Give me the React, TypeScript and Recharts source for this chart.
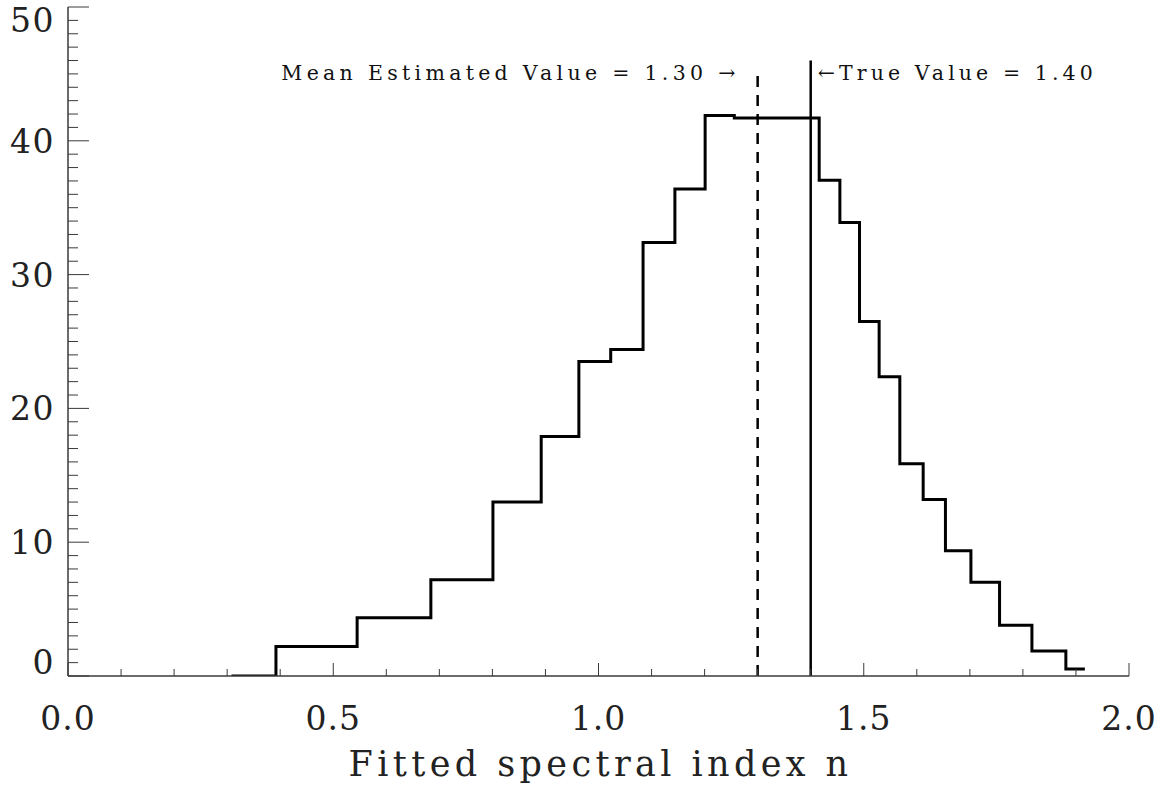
import React from 'react';
import { ComposedChart, Line, XAxis, YAxis, ReferenceLine } from 'recharts';

// Histogram bin edges (fitted spectral index n) and bin heights
const binEdges = [
  0.311, 0.392, 0.545, 0.684, 0.801, 0.892, 0.963, 1.023, 1.084, 1.144, 1.201, 1.256,
  1.416, 1.455, 1.492, 1.529, 1.568, 1.612, 1.654, 1.702, 1.756, 1.817, 1.881, 1.914,
];
const binCounts = [
  0, 2.2, 4.36, 7.2, 13.0, 17.9, 23.5, 24.4, 32.4, 36.4, 41.9, 41.7,
  37.05, 33.9, 26.5, 22.36, 15.87, 13.2, 9.36, 7.0, 3.8, 1.87, 0.52,
];

const meanValue = 1.3;
const trueValue = 1.4;
const meanLineTop = 45.2;
const trueLineTop = 46.0;

const xMajorTicks = [0, 0.5, 1.0, 1.5, 2.0];
const yMajorTicks = [0, 10, 20, 30, 40, 50];
const xAllTicks = Array.from({ length: 21 }, (_, i) => Math.round(i) / 10);
const yAllTicks = Array.from({ length: 51 }, (_, i) => i);

const data = binEdges.map((e, i) => ({
  n: e,
  count: i < binCounts.length ? binCounts[i] : binCounts[binCounts.length - 1],
}));

const FONT = '"DejaVu Serif", "Liberation Serif", serif';
const AXIS_COLOR = '#3a3a3a';

const isMajor = (v: number, majors: number[]) => majors.some((m) => Math.abs(m - v) < 1e-6);

const BottomTick = (props: any) => {
  const { x, y, payload } = props;
  const major = isMajor(payload.value, xMajorTicks);
  return (
    <g>
      <line x1={x} y1={y} x2={x} y2={y - (major ? 13 : 7)} stroke={AXIS_COLOR} strokeWidth={1} />
      {major && (
        <text x={x} y={y + 54} textAnchor="middle" fontFamily={FONT} fontSize={33} fill="#222" letterSpacing={1}>
          {payload.value.toFixed(1)}
        </text>
      )}
    </g>
  );
};

const TopTick = (props: any) => {
  const { x, y, payload } = props;
  const major = isMajor(payload.value, xMajorTicks);
  return <line x1={x} y1={y} x2={x} y2={y + (major ? 13 : 7)} stroke={AXIS_COLOR} strokeWidth={1} />;
};

const LeftTick = (props: any) => {
  const { x, y, payload } = props;
  const major = isMajor(payload.value, yMajorTicks);
  const v = payload.value;
  const dy = v === 50 ? 13 : v === 0 ? -14 : 0;
  return (
    <g>
      <line x1={x} y1={y} x2={x + (major ? 21 : 10)} y2={y} stroke={AXIS_COLOR} strokeWidth={1} />
      {major && (
        <text x={x - 13} y={y + dy + 12} textAnchor="end" fontFamily={FONT} fontSize={33} fill="#222" letterSpacing={1.5}>
          {String(v)}
        </text>
      )}
    </g>
  );
};

const RightTick = (props: any) => {
  const { x, y, payload } = props;
  const major = isMajor(payload.value, yMajorTicks);
  return <line x1={x} y1={y} x2={x - (major ? 21 : 10)} y2={y} stroke={AXIS_COLOR} strokeWidth={1} />;
};

const MeanLabel = (props: any) => {
  const vb = props.viewBox || {};
  return (
    <text x={vb.x - 18} y={80} textAnchor="end" fontFamily={FONT} fontSize={20.5} fill="#111" letterSpacing={4.3}>
      Mean Estimated Value = 1.30 →
    </text>
  );
};

const TrueLabel = (props: any) => {
  const vb = props.viewBox || {};
  return (
    <text x={vb.x + 7} y={80} textAnchor="start" fontFamily={FONT} fontSize={20.5} fill="#111" letterSpacing={4.1}>
      ←True Value = 1.40
    </text>
  );
};

const XTitle = (props: any) => {
  const vb = props.viewBox || {};
  return (
    <text x={vb.x + vb.width / 2 + 2} y={vb.y + 100} textAnchor="middle" fontFamily={FONT} fontSize={35} fill="#222" letterSpacing={4.4}>
      Fitted spectral index n
    </text>
  );
};

export default function App() {
  return (
    <div style={{ position: 'absolute', left: 0, top: 0, width: 1174, height: 791, background: '#fff' }}>
      <ComposedChart width={1174} height={791} data={data} margin={{ top: 7, right: 45, bottom: 0, left: 0 }}>
        <XAxis
          xAxisId="bottom"
          dataKey="n"
          type="number"
          domain={[0, 2]}
          ticks={xAllTicks}
          interval={0}
          orientation="bottom"
          height={115}
          tickSize={0}
          tickMargin={0}
          tickLine={false}
          axisLine={{ stroke: AXIS_COLOR, strokeWidth: 1.5 }}
          tick={<BottomTick />}
          allowDataOverflow
          label={{ content: <XTitle /> }}
        />
        <XAxis
          xAxisId="top"
          dataKey="n"
          type="number"
          domain={[0, 2]}
          ticks={xAllTicks}
          interval={0}
          orientation="top"
          height={0}
          tickSize={0}
          tickMargin={0}
          tickLine={false}
          axisLine={{ stroke: AXIS_COLOR, strokeWidth: 1.5 }}
          tick={<TopTick />}
          allowDataOverflow
        />
        <YAxis
          yAxisId="left"
          type="number"
          domain={[0, 50]}
          ticks={yAllTicks}
          interval={0}
          orientation="left"
          width={68}
          tickSize={0}
          tickMargin={0}
          tickLine={false}
          axisLine={{ stroke: AXIS_COLOR, strokeWidth: 1.5 }}
          tick={<LeftTick />}
          allowDataOverflow
        />
        <YAxis
          yAxisId="right"
          type="number"
          domain={[0, 50]}
          ticks={yAllTicks}
          interval={0}
          orientation="right"
          width={0}
          tickSize={0}
          tickMargin={0}
          tickLine={false}
          axisLine={{ stroke: AXIS_COLOR, strokeWidth: 1.5 }}
          tick={<RightTick />}
          allowDataOverflow
        />
        <Line
          xAxisId="bottom"
          yAxisId="left"
          type="stepAfter"
          dataKey="count"
          stroke="#000"
          strokeWidth={3}
          dot={false}
          activeDot={false}
          isAnimationActive={false}
          strokeLinejoin="miter"
          strokeLinecap="square"
        />
        <ReferenceLine
          xAxisId="bottom"
          yAxisId="left"
          segment={[{ x: meanValue, y: 0 }, { x: meanValue, y: meanLineTop }]}
          stroke="#000"
          strokeWidth={2.5}
          strokeDasharray="11 8"
          label={<MeanLabel />}
        />
        <ReferenceLine
          xAxisId="bottom"
          yAxisId="left"
          segment={[{ x: trueValue, y: 0 }, { x: trueValue, y: trueLineTop }]}
          stroke="#000"
          strokeWidth={2.5}
          label={<TrueLabel />}
        />
      </ComposedChart>
    </div>
  );
}
